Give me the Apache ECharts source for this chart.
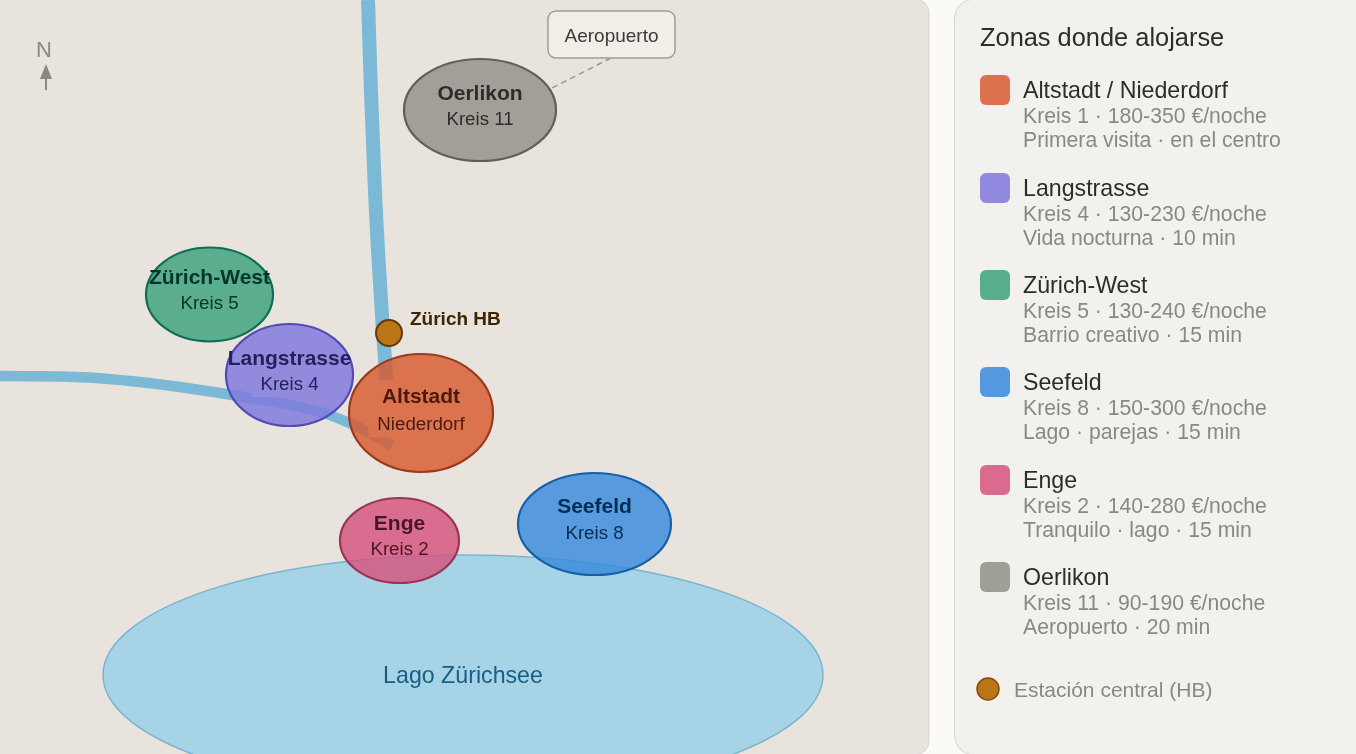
<!DOCTYPE html>
<html><head><meta charset="utf-8">
<style>html,body{margin:0;padding:0;background:#FBFAF6}#c{width:1356px;height:754px}</style>
<script src="https://cdn.jsdelivr.net/npm/echarts@6/dist/echarts.min.js"></script>
</head><body><div id="c"></div>
<script>
// Zones (map coordinates)
const zoneNames = ['Altstadt','Langstrasse','Zürich-West','Seefeld','Enge','Oerlikon'];
const zoneSubs  = ['Niederdorf','Kreis 4','Kreis 5','Kreis 8','Kreis 2','Kreis 11'];
const zoneX  = [421,289.5,209.5,594.5,399.5,480];
const zoneY  = [413,375,294.5,524,540.5,110];
const zoneRx = [72,63.5,63.5,76.5,59.5,76];
const zoneRy = [59,51,47,51,42.5,51];
const nameY  = [397.5,359.5,278.5,507.5,524.5,94.5];
const subY   = [425,384.5,304,534,550,120];
const fills   = ['#D85A30','#7F77DD','#3BA27B','#378ADD','#D4537E','#919087'];
const strokes = ['#993C1D','#534AB7','#0F6E56','#185FA5','#993556','#5F5E5A'];
const inks    = ['#4A1B0C','#26215C','#04342C','#042C53','#4B1528','#2C2C2A'];
const patches = [['#DB734F','#DB734F'],[null,'#928BDD'],[null,null],[null,null],[null,null],[null,null]];
// Rivers
const riverNorth = [[368,0],[374.5,180],[381,300],[386.5,380]];
const riverWest  = [[0,376],[60,376.5],[130,381],[200,390],[250,398],[300,407],[347,422],[392,446]];
// Lake, station, airport
const lake = {name:'Lago Zürichsee', x:463, y:675, rx:360, ry:120};
const station = {name:'Zürich HB', x:389, y:333, r:13};
const airport = {name:'Aeropuerto'};
const airportLink = [[611,58],[548,90]];
// Legend
const legendTitle = 'Zonas donde alojarse';
const legendNames = ['Altstadt / Niederdorf','Langstrasse','Zürich-West','Seefeld','Enge','Oerlikon'];
const legendLine1 = ['Kreis 1 · 180-350 €/noche','Kreis 4 · 130-230 €/noche','Kreis 5 · 130-240 €/noche','Kreis 8 · 150-300 €/noche','Kreis 2 · 140-280 €/noche','Kreis 11 · 90-190 €/noche'];
const legendLine2 = ['Primera visita · en el centro','Vida nocturna · 10 min','Barrio creativo · 15 min','Lago · parejas · 15 min','Tranquilo · lago · 15 min','Aeropuerto · 20 min'];
const legendStation = 'Estación central (HB)';

const FF = 'Liberation Sans';
const chart = echarts.init(document.getElementById('c'), null, {renderer:'canvas'});
const legendTops = [75,173,270,367,465,562];
const G = [];
const T=(x,y,text,fill,size,weight,align)=>({x,y,text,fill,fontSize:size,fontWeight:weight||'normal',fontFamily:FF,textAlign:align||'left',textVerticalAlign:'middle'});
G.push({type:'rect',z:-5,silent:true,shape:{x:-20,y:-1,width:949,height:756,r:14},style:{fill:'#E8E4DD',stroke:'#D9D6CE',lineWidth:1}});
G.push({type:'rect',z:-5,silent:true,shape:{x:954.5,y:-1,width:430,height:756,r:20},style:{fill:'#F3F1ED',stroke:'#D5D3CC',lineWidth:1}});
G.push({type:'text',z:50,style:T(980,39,legendTitle,'#2C2C2A',25.4)});
legendNames.forEach((n,i)=>{
  const t=legendTops[i];
  G.push({type:'rect',z:50,shape:{x:980,y:t,width:30,height:30,r:6},style:{fill:fills[i],opacity:.85}});
  G.push({type:'text',z:50,style:T(1023,t+16.5,n,'#2C2C2A',23.2)});
  G.push({type:'text',z:50,style:T(1023,t+42.5,legendLine1[i],'#8A8880',21.2)});
  G.push({type:'text',z:50,style:T(1023,t+66,legendLine2[i],'#8A8880',21.2)});
});
G.push({type:'circle',z:50,shape:{cx:988,cy:689,r:11},style:{fill:'#BA7517',stroke:'#854F0B',lineWidth:1.5}});
G.push({type:'text',z:50,style:T(1014,691,legendStation,'#8A8880',21)});
// North arrow
G.push({type:'text',z:50,style:T(44,50.5,'N','#8A8880',22,'normal','center')});
G.push({type:'polygon',z:50,shape:{points:[[46,64],[40,79],[52,79]]},style:{fill:'#8A8880'}});
G.push({type:'line',z:50,shape:{x1:46,y1:78,x2:46,y2:90},style:{stroke:'#8A8880',lineWidth:2}});

const riverStyle = {color:'#7CB9D6',width:14,cap:'butt',join:'round'};
const renderZone=(p,api)=>{
  const i=p.dataIndex;
  const c=api.coord([zoneX[i],zoneY[i]]), s=api.size([zoneRx[i],zoneRy[i]]);
  const children=[{type:'ellipse',shape:{cx:c[0],cy:c[1],rx:s[0],ry:s[1]},style:{fill:echarts.color.modifyAlpha(fills[i],.82),stroke:strokes[i],lineWidth:2.2}}];
  const nc=api.coord([zoneX[i],nameY[i]]), sc=api.coord([zoneX[i],subY[i]]);
  const txt=(str,y,size,weight,bg)=>{
    const st=T(c[0],y,str,inks[i],size,weight,'center');
    if(bg){st.backgroundColor=bg;st.padding=[3,9,3,9];}
    return {type:'text',style:st};
  };
  children.push(txt(zoneNames[i],nc[1],21,'bold',patches[i][0]));
  children.push(txt(zoneSubs[i],sc[1],18.7,'normal',patches[i][1]));
  return {type:'group',children};
};
const option={
  animation:false,
  backgroundColor:'#FBFAF6',
  graphic:G,
  grid:{left:0,top:0,width:1356,height:754,containLabel:false},
  xAxis:{type:'value',min:0,max:1356,show:false},
  yAxis:{type:'value',min:0,max:754,inverse:true,show:false},
  series:[
    {type:'line',name:'riverNorth',z:2,data:riverNorth,symbol:'none',smooth:true,lineStyle:riverStyle,silent:true,clip:false},
    {type:'line',name:'riverWest',z:2,data:riverWest,symbol:'none',smooth:true,lineStyle:{...riverStyle,width:10.5},silent:true,clip:false},
    {type:'custom',name:'lake',z:3,silent:true,data:[[lake.x,lake.y]],clip:false,renderItem:(p,api)=>{
      const c=api.coord([lake.x,lake.y]),s=api.size([lake.rx,lake.ry]);
      return {type:'group',children:[
        {type:'ellipse',shape:{cx:c[0],cy:c[1],rx:s[0],ry:s[1]},style:{fill:'#A6D3E6',stroke:'#7AB5D0',lineWidth:1.5}},
        {type:'text',style:T(c[0],c[1]+1.5,lake.name,'#185F85',23.2,'normal','center')}
      ]};
    }},
    {type:'custom',name:'link',z:4,silent:true,data:[0],renderItem:(p,api)=>{
      const a=api.coord(airportLink[0]),b=api.coord(airportLink[1]);
      return {type:'group',children:[
        {type:'line',shape:{x1:a[0],y1:a[1],x2:b[0],y2:b[1]},style:{stroke:'#9A978F',lineWidth:1.5,lineDash:[6,4]}},
        {type:'rect',shape:{x:548,y:11,width:127,height:47,r:8},style:{fill:'#F1EEE8',stroke:'#A09D95',lineWidth:1.5}},
        {type:'text',style:T(611.5,37,airport.name,'#3A3A38',19,'normal','center')}
      ]};
    }},
    {type:'custom',name:'zones',z:5,silent:true,data:zoneNames.map((n,i)=>[zoneX[i],zoneY[i]]),clip:false,renderItem:renderZone},
    {type:'custom',name:'station',z:6,silent:true,data:[[station.x,station.y]],renderItem:(p,api)=>{
      const c=api.coord([station.x,station.y]);
      return {type:'group',children:[
        {type:'circle',shape:{cx:c[0],cy:c[1],r:station.r},style:{fill:'#BA7517',stroke:'#633806',lineWidth:2}},
        {type:'text',style:T(c[0]+21,c[1]-13.5,station.name,'#412402',19,'bold')}
      ]};
    }}
  ]
};
chart.setOption(option);
</script></body></html>
